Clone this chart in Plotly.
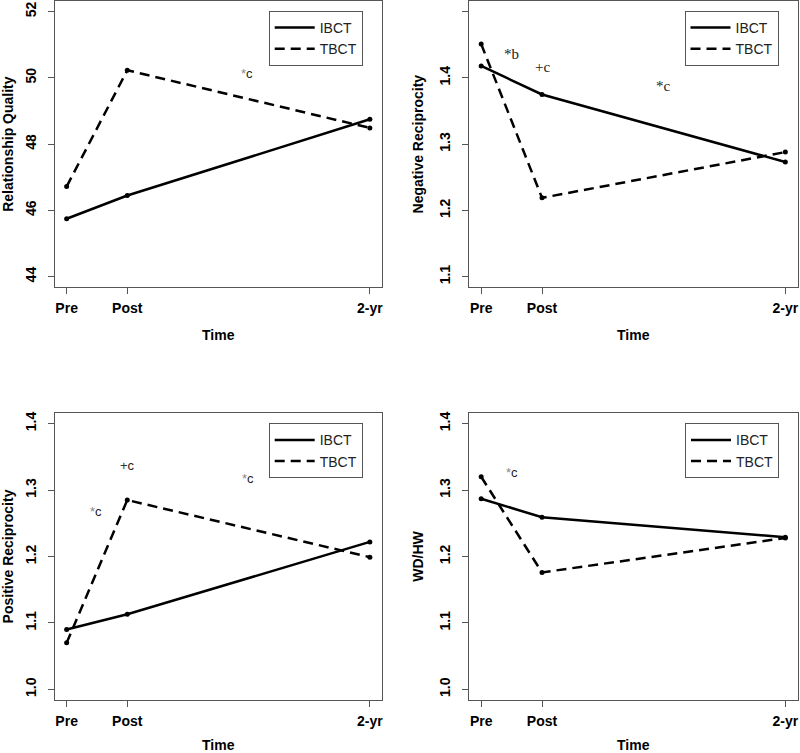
import plotly.graph_objects as go

# ---------------- data ----------------
time_labels = ["Pre", "Post", "2-yr"]
time_months = [0, 6, 30]
groups = ["IBCT", "TBCT"]

rq_ibct = [45.75, 46.45, 48.75]
rq_tbct = [46.72, 50.23, 48.49]
nr_ibct = [1.418, 1.375, 1.273]
nr_tbct = [1.451, 1.219, 1.288]
pr_ibct = [1.090, 1.113, 1.222]
pr_tbct = [1.070, 1.285, 1.199]
wh_ibct = [1.287, 1.259, 1.229]
wh_tbct = [1.320, 1.176, 1.228]

y_titles = ["Relationship Quality", "Negative Reciprocity", "Positive Reciprocity", "WD/HW"]
y_limits = [(44, 52), (1.1, 1.5), (1.0, 1.4), (1.0, 1.4)]
y_tickvals = [[44, 46, 48, 50, 52], [1.1, 1.2, 1.3, 1.4, 1.5],
              [1.0, 1.1, 1.2, 1.3, 1.4], [1.0, 1.1, 1.2, 1.3, 1.4]]
y_ticktext = [["44", "46", "48", "50", "52"], ["1.1", "1.2", "1.3", "1.4", "1.5"],
              ["1.0", "1.1", "1.2", "1.3", "1.4"], ["1.0", "1.1", "1.2", "1.3", "1.4"]]

# significance markers per panel
ann_text = [["*c"], ["*b", "+c", "*c"], ["*c", "+c", "*c"], ["*c"]]
ann_x = [[17.8], [3.0, 6.0, 18.0], [2.95, 6.0, 17.96], [3.05]]
ann_y = [[50.14], [1.436, 1.416, 1.387], [1.267, 1.337, 1.318], [1.327]]
ann_serif = [False, True, False, False]

series = [(rq_ibct, rq_tbct), (nr_ibct, nr_tbct), (pr_ibct, pr_tbct), (wh_ibct, wh_tbct)]

# ---------------- layout geometry ----------------
W, H = 800, 753
x_doms = [(54.5, 382.0), (469.0, 797.5)]
y_doms = [(1.0, 287.3), (413.0, 700.0)]
legend_pos = [(362.7, 11.0), (778.5, 11.0), (362.7, 423.3), (779.0, 423.3)]

SANS = "Liberation Sans, Arial, sans-serif"
SERIF = "Liberation Serif, Times New Roman, serif"
BOX = "#555555"

fig = go.Figure()
layout = dict(width=W, height=H, margin=dict(l=0, r=0, t=0, b=0),
              paper_bgcolor="white", plot_bgcolor="white", showlegend=True)
annotations = []

x_lo, x_hi = min(time_months), max(time_months)
x_pad = (x_hi - x_lo) * 0.04

for i in range(4):
    r, c = divmod(i, 2)
    sfx = "" if i == 0 else str(i + 1)
    xa, ya = "x" + sfx, "y" + sfx
    leg = "legend" + sfx
    ibct, tbct = series[i]
    for name, vals, dash in [(groups[0], ibct, "solid"), (groups[1], tbct, "10px,6px")]:
        fig.add_trace(go.Scatter(x=time_months, y=vals, mode="lines", name=name,
                                 line=dict(color="black", width=2.5, dash=dash),
                                 xaxis=xa, yaxis=ya, legend=leg, hoverinfo="skip"))
    for vals in (ibct, tbct):
        fig.add_trace(go.Scatter(x=time_months, y=vals, mode="markers", showlegend=False,
                                 marker=dict(color="black", size=5),
                                 xaxis=xa, yaxis=ya, hoverinfo="skip"))

    xd = x_doms[c]
    yd = y_doms[r]
    lo, hi = y_limits[i]
    ypad = (hi - lo) * 0.04
    layout["xaxis" + sfx] = dict(
        domain=[xd[0] / W, xd[1] / W], anchor=ya, range=[x_lo - x_pad, x_hi + x_pad],
        tickvals=time_months, ticktext=time_labels, ticks="outside", ticklen=6,
        tickcolor=BOX, showline=True, linecolor=BOX, linewidth=1, mirror=True,
        showgrid=False, zeroline=False, ticklabelstandoff=2,
        tickfont=dict(family=SANS, size=14, color="black", weight="bold"),
        title=dict(text="Time", standoff=15,
                   font=dict(family=SANS, size=14, color="black", weight="bold")),
        automargin=False)
    layout["yaxis" + sfx] = dict(
        domain=[1 - yd[1] / H, 1 - yd[0] / H], anchor=xa, range=[lo - ypad, hi + ypad],
        tickvals=y_tickvals[i], ticktext=y_ticktext[i], ticks="outside", ticklen=6,
        tickcolor=BOX, showline=True, linecolor=BOX, linewidth=1, mirror=True,
        showgrid=False, zeroline=False, tickangle=-90, ticklabelstandoff=6,
        tickfont=dict(family=SANS, size=14, color="black", weight="bold"),
        title=dict(text=y_titles[i], standoff=10,
                   font=dict(family=SANS, size=14, color="black", weight="bold")),
        automargin=False)
    lx, ly = legend_pos[i]
    layout[leg] = dict(x=lx / W, y=1 - ly / H, xanchor="right", yanchor="top",
                       xref="paper", yref="paper",
                       bgcolor="white", bordercolor=BOX, borderwidth=1,
                       font=dict(family=SANS, size=14, color="#222222"),
                       itemwidth=40, tracegroupgap=0)

    for t, ax_, ay_ in zip(ann_text[i], ann_x[i], ann_y[i]):
        sym, letter = t[0], t[1:]
        if ann_serif[i]:
            txt = t
            font = dict(family=SERIF, size=15, color="#222222")
        else:
            col = "#888888" if sym == "*" else "#333333"
            txt = f'<span style="color:{col}">{sym}</span>{letter}'
            font = dict(family=SANS, size=13, color="#222222")
        annotations.append(dict(x=ax_, y=ay_, xref=xa, yref=ya, text=txt,
                                showarrow=False, font=font))

layout["annotations"] = annotations
fig.update_layout(**layout)
fig.write_html("out.html", config={"displayModeBar": False, "staticPlot": True},
               post_script="document.body.style.margin='0';document.body.style.overflow='hidden';")
